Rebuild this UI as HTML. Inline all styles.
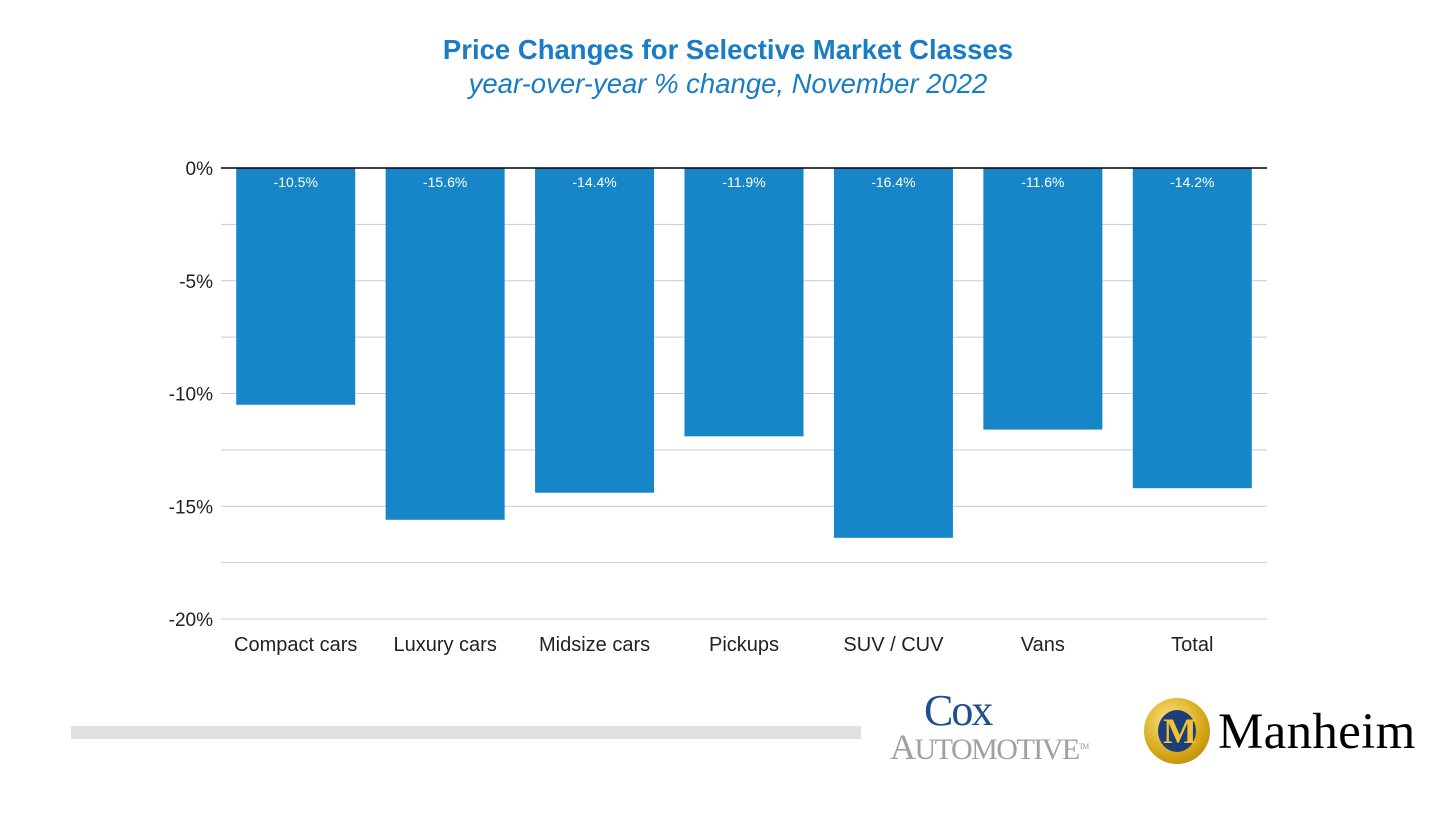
<!DOCTYPE html>
<html><head><meta charset="utf-8"><style>
body{margin:0;width:1456px;height:817px;background:#fff;overflow:hidden;font-family:"Liberation Sans",sans-serif;position:relative}
.t{position:absolute;left:0;width:1456px;text-align:center;color:#1a7dc4}
</style></head><body>
<div class="t" style="top:34px;font-size:27.5px;font-weight:bold">Price Changes for Selective Market Classes</div>
<div class="t" style="top:68px;font-size:27.5px;font-style:italic">year-over-year % change, November 2022</div>
<svg id="c" width="1456" height="817" style="position:absolute;left:0;top:0"></svg>
<div style="position:absolute;left:71px;top:726px;width:790px;height:13px;background:#e0e0e0"></div>
<div style="position:absolute;left:890px;top:692px;font-family:'Liberation Serif',serif">
<div style="color:#1d4f91;font-size:44px;line-height:38px;margin-left:34px;letter-spacing:-2px">Cox</div>
<div style="color:#a0a0a4;font-size:36px;line-height:34px;letter-spacing:-1.5px">A<span style="font-size:30px">UTOMOTIVE</span><span style="font-size:8px;vertical-align:top">TM</span></div>
</div>
<div style="position:absolute;left:1144px;top:698px">
<div style="position:absolute;left:0;top:0;width:66px;height:66px;border-radius:50%;background:radial-gradient(circle at 40% 35%,#ffe680,#d4a514 60%,#a87c08)"></div>
<div style="position:absolute;left:14px;top:12px;width:38px;height:42px;border-radius:50%;background:#1d3e7a"></div>
<div style="position:absolute;left:19px;top:12px;width:28px;height:42px;color:#f1c232;font:bold 36px 'Liberation Serif',serif;text-align:center;line-height:42px">M</div>
<div style="position:absolute;left:74px;top:6px;font:51px 'Liberation Serif',serif;color:#000;line-height:56px;letter-spacing:0.3px">Manheim</div>
</div>
<script>
const categories=["Compact cars","Luxury cars","Midsize cars","Pickups","SUV / CUV","Vans","Total"];
const values=[-10.5,-15.6,-14.4,-11.9,-16.4,-11.6,-14.2];
const ticks=[0,-5,-10,-15,-20];
const grid=[-2.5,-5,-7.5,-10,-12.5,-15,-17.5,-20];
const svg=document.getElementById('c');const NS='http://www.w3.org/2000/svg';
const x0=221,x1=1267,y0=168,y1=619;
const y=v=>y0+(v/-20)*(y1-y0);
const bw=(x1-x0)/categories.length;
function mk(t,a,txt){const e=document.createElementNS(NS,t);for(const k in a)e.setAttribute(k,a[k]);if(txt!==undefined)e.textContent=txt;svg.appendChild(e);return e;}
grid.forEach(g=>{const l=mk('line',{x1:x0,x2:x1,y1:y(g),y2:y(g),stroke:'#cccccc','stroke-width':1});

});
ticks.forEach(t=>{const e=mk('text',{x:213,y:y(t)+7,'text-anchor':'end','font-size':19,fill:'#222'},t+'%');

});
categories.forEach((c,i)=>{const cx=x0+bw*(i+0.5);const v=values[i];
const r=mk('rect',{x:cx-59.5,y:y0,width:119,height:y(v)-y0,fill:'#1786c8'});


const l=mk('text',{x:cx,y:y0+19,'text-anchor':'middle','font-size':14,fill:'#fff'},v.toFixed(1)+'%');


const xl=mk('text',{x:cx,y:651,'text-anchor':'middle','font-size':20,fill:'#222'},c);

});
const z=mk('line',{x1:x0,x2:x1,y1:y0,y2:y0,stroke:'#000','stroke-width':1.5});


</script>
</body></html>
